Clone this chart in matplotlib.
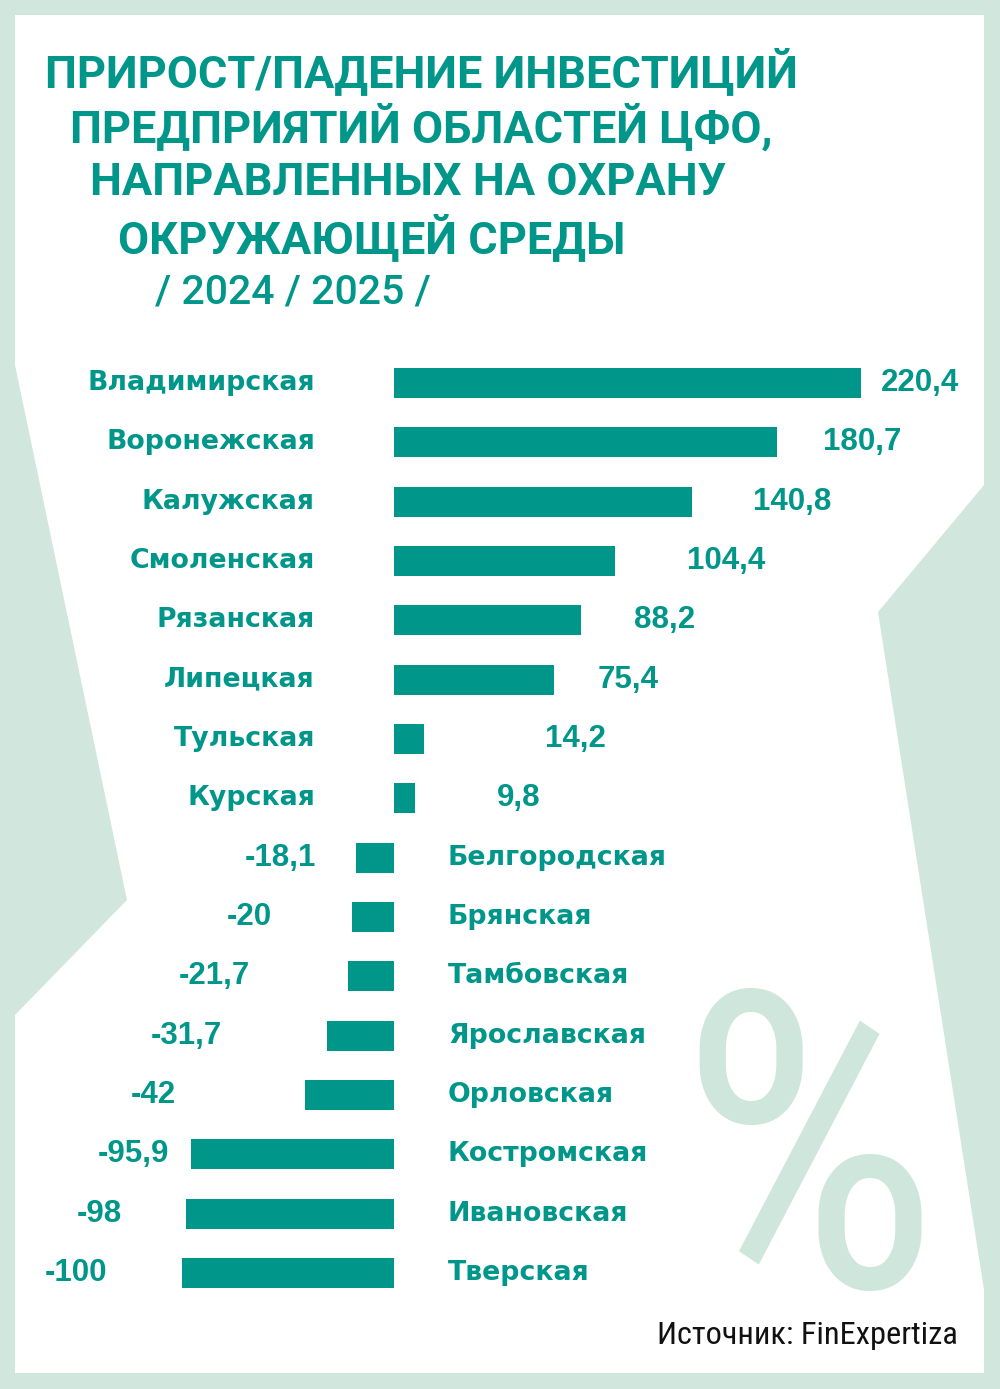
import numpy as np
import matplotlib
matplotlib.use("Agg")
import matplotlib.pyplot as plt
from matplotlib.patches import Polygon

TEAL = '#00968a'
MINT = '#d1e7de'
PCT = '#cfe6dc'
COND = ['Roboto Condensed', 'DejaVu Sans']
WIDE = ['Roboto', 'DejaVu Sans']
plt.rcParams['mathtext.fontset'] = 'custom'
plt.rcParams['mathtext.rm'] = 'Roboto Condensed'

regions = ['Владимирская', 'Воронежская', 'Калужская', 'Смоленская', 'Рязанская',
           'Липецкая', 'Тульская', 'Курская', 'Белгородская', 'Брянская', 'Тамбовская',
           'Ярославская', 'Орловская', 'Костромская', 'Ивановская', 'Тверская']
values = [220.4, 180.7, 140.8, 104.4, 88.2, 75.4, 14.2, 9.8, -18.1, -20, -21.7,
          -31.7, -42, -95.9, -98, -100]
value_labels = ['220,4', '180,7', '140,8', '104,4', '88,2', '75,4', '14,2', '9,8',
                '-18,1', '-20', '-21,7', '-31,7', '-42', '-95,9', '-98', '-100']

title_lines = ['ПРИРОСТ/ПАДЕНИЕ ИНВЕСТИЦИЙ', 'ПРЕДПРИЯТИЙ ОБЛАСТЕЙ ЦФО,',
               'НАПРАВЛЕННЫХ НА ОХРАНУ', 'ОКРУЖАЮЩЕЙ СРЕДЫ']
subtitle = '/ 2024 / 2025 /'
source = 'Источник: FinExpertiza'

# gap (px) between bar end and value label, as in the original layout
label_gap = [20, 46, 61, 72, 53, 44, 121, 82, 40, 80, 98, 105, 129, 22, 64, 75]

W, H = 1000, 1389
fig = plt.figure(figsize=(W / 100, H / 100), dpi=100)
fig.patch.set_facecolor(MINT)

# background layer in pixel coordinates
bg = fig.add_axes([0, 0, 1, 1])
bg.set_xlim(0, W)
bg.set_ylim(H, 0)
bg.axis('off')
shape = [(15, 15), (984, 15), (984, 485), (878, 612), (984, 1290), (984, 1373),
         (15, 1373), (15, 1015), (127, 900), (15, 365)]
bg.add_patch(Polygon(shape, closed=True, facecolor='white', edgecolor='none'))

# big percent watermark
bg.text(800, 1287, r'$\mathrm{\%}$', fontsize=298, color=PCT,
        ha='center', va='baseline')

title_x = [45, 70, 90, 118]
title_y = [72, 128, 183, 238]
for s, x, y in zip(title_lines, title_x, title_y):
    bg.text(x, y, s, fontsize=32.5, fontweight='bold', family=WIDE,
            color=TEAL, ha='left', va='center')
bg.text(155, 293, subtitle, fontsize=29.5, fontweight='medium', family=WIDE,
        color=TEAL, ha='left', va='center')
bg.text(958, 1335, source, fontsize=23.3, family=COND,
        color='#111111', ha='right', va='center')

# bar layer: data units on x, category index on y
zero_px, px_per_unit = 394, 2.12
row0, row_step = 383, 59.33
ax = fig.add_axes([0, 0, 1, 1])
ax.patch.set_alpha(0)
ax.set_xlim(-zero_px / px_per_unit, (W - zero_px) / px_per_unit)
ax.set_ylim((H - row0) / row_step, -row0 / row_step)
ax.axis('off')

ypos = np.arange(len(regions))
ax.barh(ypos, values, height=30 / row_step, color=TEAL, linewidth=0)

name_kw = dict(fontsize=19.3, fontweight='bold', family='DejaVu Sans', color=TEAL, va='center')
num_kw = dict(fontsize=22.5, fontweight='bold', family='Liberation Sans', color=TEAL, va='center')
for i, (name, v, lab, g) in enumerate(zip(regions, values, value_labels, label_gap)):
    if v >= 0:
        ax.text((315 - zero_px) / px_per_unit, i, name, ha='right', **name_kw)
        ax.text(v + g / px_per_unit, i, lab, ha='left', **num_kw)
    else:
        ax.text((448 - zero_px) / px_per_unit, i, name, ha='left', **name_kw)
        ax.text(v - g / px_per_unit, i, lab, ha='right', **num_kw)

fig.savefig('out.png', dpi=100, facecolor=MINT)
